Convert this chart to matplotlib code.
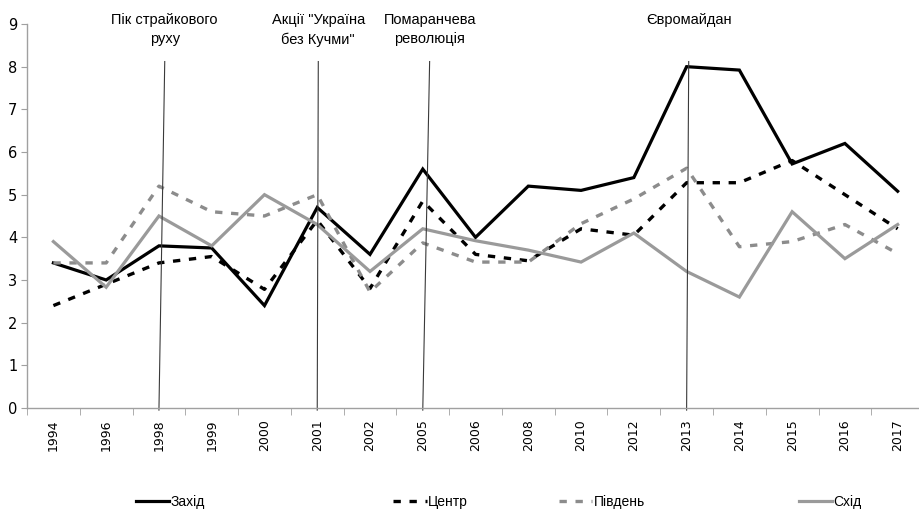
import numpy as np
import matplotlib.pyplot as plt

years = ["1994", "1996", "1998", "1999", "2000", "2001", "2002", "2005", "2006",
         "2008", "2010", "2012", "2013", "2014", "2015", "2016", "2017"]

zakhid = [3.4, 3.0, 3.8, 3.75, 2.4, 4.7, 3.6, 5.6, 4.0, 5.2, 5.1, 5.4, 8.0, 7.92, 5.72, 6.2, 5.08]
tsentr = [2.4, 2.9, 3.4, 3.55, 2.78, 4.4, 2.8, 4.85, 3.6, 3.45, 4.2, 4.05, 5.28, 5.28, 5.8, 5.0, 4.2]
pivden = [3.4, 3.4, 5.2, 4.6, 4.5, 5.0, 2.72, 3.87, 3.42, 3.42, 4.32, 4.9, 5.62, 3.78, 3.9, 4.3, 3.62]
skhid = [3.9, 2.83, 4.5, 3.8, 5.0, 4.3, 3.2, 4.2, 3.92, 3.7, 3.42, 4.1, 3.2, 2.6, 4.6, 3.5, 4.3]

events = ["1998", "2001", "2005", "2013"]
event_labels = ["Пік страйкового\nрухy", "Акції \"Україна\nбез Кучми\"",
                "Помаранчева\nреволюція", "Євромайдан"]

narrow = ["Liberation Sans Narrow", "Liberation Sans", "DejaVu Sans"]

fig = plt.figure(figsize=(9.19, 5.15), dpi=100)
ax = fig.add_axes([0.0294, 0.2078, 1.0055 - 0.0294, 0.9534 - 0.2078])

x = np.arange(len(years))
l1, = ax.plot(x, zakhid, color="black", lw=2.3, solid_joinstyle="miter")
l2, = ax.plot(x, tsentr, color="black", lw=2.4, linestyle=(0, (2.2, 2.6)))
l3, = ax.plot(x, pivden, color="#8c8c8c", lw=2.4, linestyle=(0, (2.2, 2.6)))
l4, = ax.plot(x, skhid, color="#9a9a9a", lw=2.3, solid_joinstyle="miter")

# event markers (slightly slanted like the original)
tilts = [0.11, 0.02, 0.13, 0.04]
for ev, lab, t in zip(events, event_labels, tilts):
    i = years.index(ev)
    ax.plot([i, i + t], [-0.05, 8.12], color="#3a3a3a", lw=0.8, clip_on=False)
    ax.text(i + t, 9.25, lab, ha="center", va="top", fontsize=10.5,
            family=narrow, linespacing=1.45, clip_on=False)

ax.set_xlim(-0.5, len(years) - 0.5)
ax.set_ylim(0, 9)
ax.set_yticks(range(0, 10))
ax.set_xticks(x)
ax.set_xticklabels(years, rotation=90, fontsize=9)
ax.set_xticks(np.arange(-0.5, len(years)), minor=True)
ax.tick_params(axis="x", which="major", length=0, pad=8)
ax.tick_params(axis="x", which="minor", length=5, color="#a0a0a0", direction="out")
ax.tick_params(axis="y", length=4, color="#a0a0a0", labelsize=10.5, pad=3)

for s in ["top", "right"]:
    ax.spines[s].set_visible(False)
for s in ["left", "bottom"]:
    ax.spines[s].set_color("#a0a0a0")
    ax.spines[s].set_linewidth(1.0)

names = ["Захід", "Центр", "Південь", "Схід"]
handles = [l1, l2, l3, l4]
lx = [0.148, 0.428, 0.608, 0.869]
for h, n, px in zip(handles, names, lx):
    fig.legend([h], [n], loc="center left", bbox_to_anchor=(px, 0.025),
               frameon=False, handlelength=2.4, handletextpad=0.1,
               borderaxespad=0, borderpad=0,
               prop={"family": narrow, "size": 10})

fig.savefig("out.png", dpi=100)
